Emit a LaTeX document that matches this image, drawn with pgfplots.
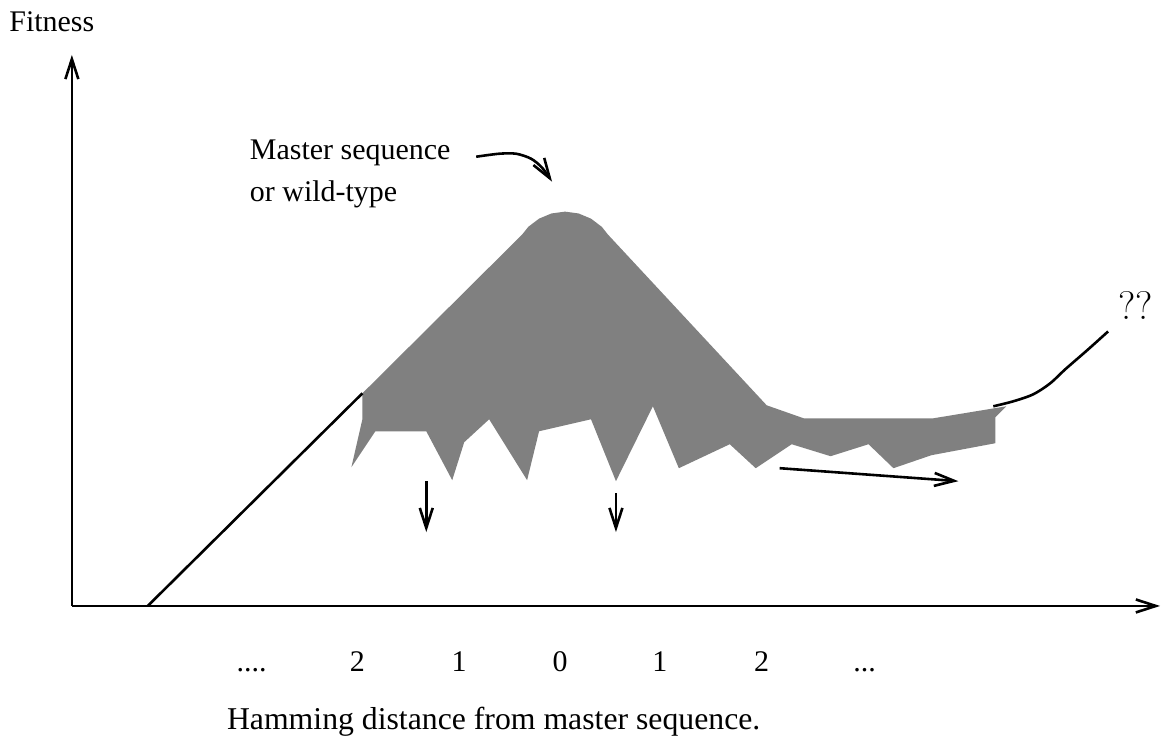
\documentclass[border=0pt]{standalone}
\usepackage{fontspec}
\setmainfont{Liberation Serif}
\usepackage{pgfplots}
\pgfplotsset{compat=1.18}
\usetikzlibrary{arrows.meta}

% picture drawn in reference pixels (x right, y up = 745 - row), 1 px = 0.5 pt
\tikzset{barb/.style={-{Straight Barb[length=10pt,width=6.5pt]}}}
\newcommand\fourdots{....}
\newcommand\threedots{...}

\begin{document}
\fontsize{15}{18}\selectfont
\begin{tikzpicture}
\begin{axis}[
    width=582pt, height=372.5pt, scale only axis,
    xmin=0, xmax=1164, ymin=0, ymax=745,
    clip=false,
    axis line style={draw=none},
    tick style={draw=none},
    ytick=\empty,
    xtick={252,358,460,561,661,763,866},
    xticklabels={\fourdots,2,1,0,1,2,\threedots},
    xticklabel style={anchor=base, yshift=36pt, inner sep=0pt},
    every axis plot/.append style={line width=1.3pt},
  ]

% fitness landscape: the quasispecies cloud
\addplot[fill=gray, draw=none] coordinates {
  (363,351) (523,510) (529.2,517.8) (540,526) (552.5,531.2) (566,533)
  (579.5,531.2) (592,526) (602.8,517.8) (609,510) (768,339) (805,326)
  (935,326) (1008,338) (997,327) (997,301)
  (933,289) (895,276) (870,300) (832,288) (793,300) (757,276) (731,300)
  (680,276) (654,338) (617,263) (592,325) (540,313) (528,264) (490,325)
  (465,302) (453,264) (427,313) (376,313) (352,277) (363,325) (363,351)
} -- cycle;

% axes
\addplot[barb] coordinates {(72,138) (72,690)};
\addplot[barb] coordinates {(72,138) (1162,138)};

% rising slope on the left
\addplot[black] coordinates {(148,138) (363,351)};

% arrows
\addplot[barb] coordinates {(427,263) (427,212)};
\addplot[barb] coordinates {(617,251) (617,212)};
\addplot[barb] coordinates {(781,276) (960,263)};
\addplot[barb, smooth] coordinates {(477,588) (500,591) (517,591) (532,586) (543,577) (553,563)};
\addplot[black, smooth] coordinates {(995,338) (1015,343) (1035,350) (1052,361) (1067,375) (1090,395) (1110,413)};

% texts
\node[anchor=base west, inner sep=0pt] at (axis cs:9,713) {Fitness};
\node[anchor=base west, inner sep=0pt] at (axis cs:250,585) {Master sequence};
\node[anchor=base west, inner sep=0pt] at (axis cs:250,543) {or wild-type};
\node[anchor=base west, inner sep=0pt, font=\fontsize{15.9}{19}\selectfont] at (axis cs:227,14) {Hamming distance from master sequence.};
\node[anchor=base west, inner sep=0pt, font=\fontsize{20}{24}\fontfamily{lmr}\selectfont] at (axis cs:1120,425) {??};

% invisible corners keep the page at the reference size
\addplot[draw=none] coordinates {(0,0) (1164,745)};
\end{axis}
\end{tikzpicture}
\end{document}
